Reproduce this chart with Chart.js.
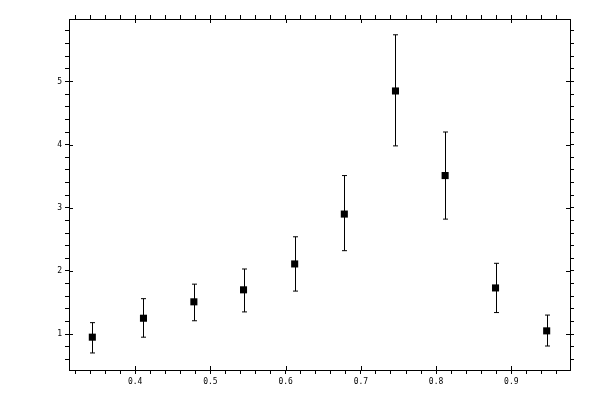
<!DOCTYPE html>
<html>
<head>
<meta charset="utf-8">
<script src="https://cdn.jsdelivr.net/npm/chart.js@4"></script>
<style>
  html, body { margin: 0; padding: 0; background: #fff; }
  #wrap { width: 600px; height: 400px; }
</style>
</head>
<body>
<div id="wrap"><canvas id="chart"></canvas></div>
<script>
// values
var xVals = [0.343, 0.411, 0.478, 0.544, 0.612, 0.678, 0.746, 0.812, 0.879, 0.947]
var yVals = [0.95, 1.25, 1.51, 1.70, 2.11, 2.90, 4.85, 3.51, 1.73, 1.05]
var yHigh = [1.18, 1.56, 1.79, 2.03, 2.54, 3.51, 5.74, 4.20, 2.12, 1.30]
var yLow  = [0.70, 0.95, 1.21, 1.35, 1.68, 2.32, 3.98, 2.82, 1.34, 0.81]

var xRange = [0.312, 0.978]
var yRange = [0.43, 5.99]

var tickFont = { family: 'DejaVu Sans Mono', size: 8 }

function isMajor(v, mult) {
  return Math.abs(v * mult - Math.round(v * mult)) < 1e-6
}

function xLabel(v) { return isMajor(v, 10) ? v.toFixed(1) : '' }
function yLabel(v) { return isMajor(v, 1) ? String(Math.round(v)) : '' }

function axis(pos, range, step, label, showLabels, size) {
  return {
    type: 'linear'
  , position: pos
  , min: range[0]
  , max: range[1]
  , border: { display: true, color: '#000', width: 1 }
  , grid: { drawOnChartArea: false, drawTicks: true, tickLength: 4, color: '#000', tickColor: '#000' }
  , ticks: {
      stepSize: step
    , autoSkip: false
    , includeBounds: false
    , display: showLabels
    , callback: label
    , color: '#000'
    , font: tickFont
    , padding: 3
    , maxRotation: 0
    }
  , afterFit: function(s) {
      if (s.isHorizontal()) s.height = size
      else s.width = size
    }
  }
}

// error bars drawn through the scales
var errorBars = {
  id: 'errorBars'
, beforeDatasetsDraw: function(chart) {
    var ctx = chart.ctx
    var xs = chart.scales.x, ys = chart.scales.y
    ctx.save()
    ctx.strokeStyle = '#000'
    ctx.lineWidth = 1
    xVals.forEach(function(xv, i) {
      var px = Math.round(xs.getPixelForValue(xv)) + 0.5
      var top = ys.getPixelForValue(yHigh[i])
      var bot = ys.getPixelForValue(yLow[i])
      ctx.beginPath()
      ctx.moveTo(px, top); ctx.lineTo(px, bot)
      ctx.moveTo(px - 2.5, top); ctx.lineTo(px + 2.5, top)
      ctx.moveTo(px - 2.5, bot); ctx.lineTo(px + 2.5, bot)
      ctx.stroke()
    })
    ctx.restore()
  }
}

// major ticks also reach into the plot area
var innerTicks = {
  id: 'innerTicks'
, afterDraw: function(chart) {
    var ctx = chart.ctx
    var a = chart.chartArea
    ctx.save()
    ctx.strokeStyle = '#000'
    ctx.lineWidth = 1
    ctx.beginPath()
    ;['x', 'x2'].forEach(function(id) {
      var s = chart.scales[id]
      s.ticks.forEach(function(t) {
        if (!isMajor(t.value, 10)) return
        var px = Math.round(s.getPixelForValue(t.value)) + 0.5
        var edge = id === 'x' ? a.bottom : a.top
        var dir = id === 'x' ? -1 : 1
        ctx.moveTo(px, edge); ctx.lineTo(px, edge + dir * 4)
      })
    })
    ;['y', 'y2'].forEach(function(id) {
      var s = chart.scales[id]
      s.ticks.forEach(function(t) {
        if (!isMajor(t.value, 1)) return
        var py = Math.round(s.getPixelForValue(t.value)) + 0.5
        var edge = id === 'y' ? a.left : a.right
        var dir = id === 'y' ? 1 : -1
        ctx.moveTo(edge, py); ctx.lineTo(edge + dir * 4, py)
      })
    })
    ctx.stroke()
    ctx.restore()
  }
}

var points = xVals.map(function(x, i) { return { x: x, y: yVals[i] } })

new Chart(document.getElementById('chart'), {
  type: 'scatter'
, data: {
    datasets: [{
      data: points
    , pointStyle: 'rect'
    , pointRadius: 5
    , pointHoverRadius: 5
    , backgroundColor: '#000'
    , borderColor: '#000'
    , borderWidth: 0
    }]
  }
, options: {
    responsive: true
  , maintainAspectRatio: false
  , animation: false
  , layout: { padding: 0 }
  , plugins: { legend: { display: false }, tooltip: { enabled: false } }
  , scales: {
      x:  axis('bottom', xRange, 0.02, xLabel, true, 30)
    , x2: axis('top', xRange, 0.02, xLabel, false, 19)
    , y:  axis('left', yRange, 0.2, yLabel, true, 69)
    , y2: axis('right', yRange, 0.2, yLabel, false, 30)
    }
  }
, plugins: [errorBars, innerTicks]
})
</script>
</body>
</html>
